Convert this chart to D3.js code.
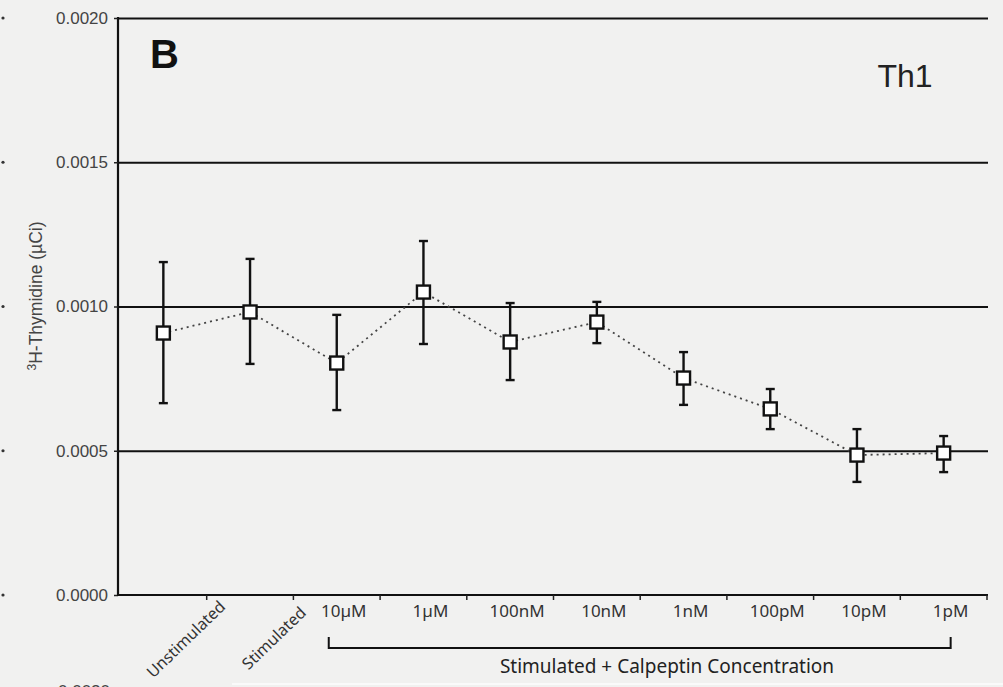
<!DOCTYPE html>
<html>
<head>
<meta charset="utf-8">
<script src="https://cdn.jsdelivr.net/npm/d3@7"></script>
<style>
	body { margin: 0; background: #f1f1f0; }
	svg { display: block; }
	.greed line { stroke: #111; stroke-width: 2; }
	.greed path { display: none; }
</style>
</head>
<body>
<script>
// categories along the bottom
var categories = ["Unstimulated", "Stimulated", "10µM", "1µM", "100nM", "10nM", "1nM", "100pM", "10pM", "1pM"];
// mean 3H-thymidine uptake
var means = [0.000908, 0.000981, 0.000804, 0.00105, 0.000877, 0.000946, 0.000752, 0.000645, 0.000485, 0.000492];
// error bar ends
var lower = [0.000665, 0.000801, 0.000641, 0.00087, 0.000745, 0.000873, 0.000659, 0.000575, 0.000392, 0.000426];
var upper = [0.001154, 0.001165, 0.000971, 0.001227, 0.001012, 0.001016, 0.000842, 0.000714, 0.000575, 0.000551];
var yTicks = [0, 0.0005, 0.0010, 0.0015, 0.0020];
var rotated = ["Unstimulated", "Stimulated"];
var bracketFrom = "10µM", bracketTo = "1pM";

var W = 1003, H = 687;
var svg = d3.select("body").append("svg").attr("width", W).attr("height", H);
svg.append("rect").attr("width", W).attr("height", H).attr("fill", "#f1f1f0");

var xScale = d3.scaleBand().domain(categories).range([120, 987]);
var yScale = d3.scaleLinear().domain([0, 0.002]).range([595, 18]);

//horizontal lines across the plot
svg.append("g").attr("class", "greed")
	.attr("transform", "translate(118,0)")
	.call(d3.axisLeft(yScale).tickValues(yTicks.slice(1)).tickSize(-870).tickFormat(""));

//left axis with labels
var yAxis = svg.append("g").attr("transform", "translate(118,0)")
	.call(d3.axisLeft(yScale).tickValues(yTicks).tickSize(4).tickPadding(6).tickFormat(d3.format(".4f")));
yAxis.select(".domain").attr("stroke", "#111").attr("stroke-width", 2.2).attr("d", "M0,17V596");
yAxis.selectAll(".tick line").attr("stroke", "#222").attr("stroke-width", 1.5);
yAxis.selectAll(".tick text").attr("font-family", "Liberation Sans, Arial, sans-serif")
	.attr("font-size", 17).attr("fill", "#444");

//the bottom axis: ticks at the band borders
var xg = svg.append("g");
xg.append("line").attr("x1", 117).attr("x2", 988).attr("y1", yScale(0)).attr("y2", yScale(0))
	.attr("stroke", "#111").attr("stroke-width", 2.2);
xg.selectAll(".xt").data(categories).enter().append("line").attr("class", "xt")
	.attr("x1", function(d) { return xScale(d) + xScale.bandwidth(); })
	.attr("x2", function(d) { return xScale(d) + xScale.bandwidth(); })
	.attr("y1", yScale(0)).attr("y2", yScale(0) + 5)
	.attr("stroke", "#222").attr("stroke-width", 1.5);

xg.selectAll(".xl").data(categories).enter().append("text").attr("class", "xl")
	.attr("font-family", "Noto Sans, Open Sans, sans-serif")
	.attr("font-size", function(d) { return rotated.indexOf(d) >= 0 ? 16 : 17; }).attr("fill", "#333")
	.attr("text-anchor", function(d) { return rotated.indexOf(d) >= 0 ? "end" : "middle"; })
	.attr("transform", function(d, i) {
		var cx = xScale(d) + xScale.bandwidth() / 2;
		if (rotated.indexOf(d) >= 0) return "translate(" + (cx + (i ? 57 : 63)) + "," + (i ? 614 : 608) + ") rotate(-44)";
		return "translate(" + (cx + 7) + ",617)";
	})
	.text(function(d) { return d; });

//bracket under the calpeptin concentrations
var bx1 = xScale(bracketFrom) + xScale.bandwidth() / 2 - 8;
var bx2 = xScale(bracketTo) + xScale.bandwidth() / 2 + 7;
svg.append("path")
	.attr("d", "M" + bx1 + ",637V648H" + bx2 + "V637")
	.attr("fill", "none").attr("stroke", "#111").attr("stroke-width", 2);
svg.append("text").attr("x", 667).attr("y", 673).attr("text-anchor", "middle")
	.attr("font-family", "Noto Sans, Open Sans, sans-serif").attr("font-size", 19).attr("fill", "#222")
	.text("Stimulated + Calpeptin Concentration");

//y axis title
var yt = svg.append("text").attr("transform", "translate(42,296) rotate(-90)")
	.attr("text-anchor", "middle").attr("font-family", "Liberation Sans, Arial, sans-serif")
	.attr("font-size", 17.5).attr("fill", "#444");
yt.append("tspan").attr("font-size", 12).attr("dy", -6).text("3");
yt.append("tspan").attr("dy", 6).text("H-Thymidine (µCi)");

svg.append("text").attr("x", 150).attr("y", 68).attr("font-family", "Liberation Sans, Arial, sans-serif")
	.attr("font-weight", "bold").attr("font-size", 40).attr("fill", "#111").text("B");
svg.append("text").attr("x", 905).attr("y", 87).attr("text-anchor", "middle")
	.attr("font-family", "Liberation Sans, Arial, sans-serif").attr("font-size", 32).attr("fill", "#222").text("Th1");

//dotted line through the means
var pts = categories.map(function(c, i) { return [xScale(c) + xScale.bandwidth() / 2, yScale(means[i])]; });
svg.append("path").attr("d", d3.line()(pts))
	.attr("fill", "none").attr("stroke", "#444").attr("stroke-width", 1.8).attr("stroke-dasharray", "2,4");

var eb = svg.append("g").attr("stroke", "#111").attr("stroke-width", 2.4);
categories.forEach(function(c, i) {
	var cx = xScale(c) + xScale.bandwidth() / 2;
	eb.append("line").attr("x1", cx).attr("x2", cx).attr("y1", yScale(lower[i])).attr("y2", yScale(upper[i]));
	eb.append("line").attr("x1", cx - 4.5).attr("x2", cx + 4.5).attr("y1", yScale(lower[i])).attr("y2", yScale(lower[i]));
	eb.append("line").attr("x1", cx - 4.5).attr("x2", cx + 4.5).attr("y1", yScale(upper[i])).attr("y2", yScale(upper[i]));
});
svg.selectAll(".mk").data(pts).enter().append("rect").attr("class", "mk")
	.attr("x", function(d) { return d[0] - 6.5; }).attr("y", function(d) { return d[1] - 6.5; })
	.attr("width", 13).attr("height", 13)
	.attr("fill", "#fff").attr("stroke", "#111").attr("stroke-width", 2.4);

//bits of the neighbouring panels, cut off at the edges
svg.selectAll(".edge").data(yTicks).enter().append("circle").attr("class", "edge")
	.attr("cx", 3).attr("cy", function(d) { return yScale(d); }).attr("r", 1.6).attr("fill", "#333");
svg.append("line").attr("x1", 232).attr("x2", 1003).attr("y1", 684).attr("y2", 684)
	.attr("stroke", "#fafafa").attr("stroke-width", 2);
svg.append("text").attr("x", 110).attr("y", 697).attr("text-anchor", "end")
	.attr("font-family", "Liberation Sans, Arial, sans-serif").attr("font-size", 17).attr("fill", "#444")
	.text("0.0020");
</script>
</body>
</html>
